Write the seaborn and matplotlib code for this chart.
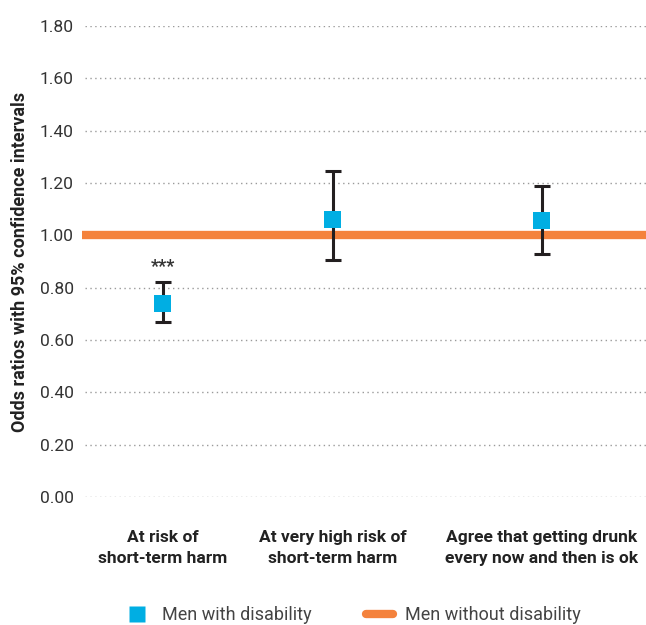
import matplotlib
matplotlib.use("Agg")
import matplotlib.pyplot as plt
import seaborn as sns
import pandas as pd
from matplotlib.lines import Line2D

categories = ["At risk of\nshort-term harm", "At very high risk of\nshort-term harm",
              "Agree that getting drunk\nevery now and then is ok"]
odds = [0.74, 1.06, 1.055]
ci_low = [0.67, 0.905, 0.93]
ci_high = [0.82, 1.245, 1.19]
significance = ["***", "", ""]
reference_value = 1.00
yticks = [0.0, 0.2, 0.4, 0.6, 0.8, 1.0, 1.2, 1.4, 1.6, 1.8]

# layout positions of the categories along x
xpos = [0.0, 1.0, 2.23]

BLUE = "#00AEE3"
ORANGE = "#F4823C"
DARK = "#231F20"

sns.set_theme(style="white")
plt.rcParams["font.family"] = ["Roboto", "DejaVu Sans"]

df = pd.DataFrame({"x": xpos, "odds": odds, "lo": ci_low, "hi": ci_high, "cat": categories})

fig = plt.figure(figsize=(6.46, 6.25), dpi=100)
ax = fig.add_axes([82 / 646, 128 / 625, (646 - 82) / 646, 471 / 625])

for y in yticks:
    ax.axhline(y, color="#9a9a9a", lw=1.0, ls=(0, (1, 2.5)), zorder=0, xmin=0.005)

ax.axhline(reference_value, color=ORANGE, lw=6, solid_capstyle="round", zorder=1)

ax.errorbar(df["x"], df["odds"],
            yerr=[df["odds"] - df["lo"], df["hi"] - df["odds"]],
            fmt="none", ecolor=DARK, elinewidth=2.2, capsize=6, capthick=2.2, zorder=2)
sns.scatterplot(data=df, x="x", y="odds", marker="s", s=150, color=BLUE,
                edgecolor="none", linewidth=0, ax=ax, zorder=3, legend=False)

for x, hi, s in zip(xpos, ci_high, significance):
    if s:
        ax.text(x, hi + 0.025, s, ha="center", va="bottom", fontsize=13,
                fontweight="bold", color="#333333")

ax.set_xlim(-0.476, 2.842)
ax.set_ylim(0, 1.8)
ax.set_yticks(yticks)
ax.set_yticklabels([f"{v:.2f}" for v in yticks], fontsize=12.5, color="#333333")
ax.tick_params(axis="y", length=0, pad=6)
ax.set_xticks(xpos)
ax.set_xticklabels(categories, fontsize=12.5, fontweight="bold", color="#222222",
                   linespacing=1.5)
ax.tick_params(axis="x", length=0, pad=24)
ax.set_xlabel("")
ax.set_ylabel("Odds ratios with 95% confidence intervals", fontsize=13,
              fontweight="bold", color="#222222", labelpad=8)
for sp in ax.spines.values():
    sp.set_visible(False)

handles = [
    Line2D([0], [0], marker="s", color="none", markerfacecolor=BLUE,
           markeredgecolor="none", markersize=11),
    Line2D([0], [0], color=ORANGE, lw=6, solid_capstyle="round"),
]
fig.legend(handles, ["Men with disability", "Men without disability"],
           loc="lower center", bbox_to_anchor=(0.545, -0.025), ncol=2, frameon=False,
           fontsize=13, handlelength=1.5, columnspacing=3.0, handletextpad=0.65,
           labelcolor="#444444")

fig.savefig("out.png", dpi=100)
